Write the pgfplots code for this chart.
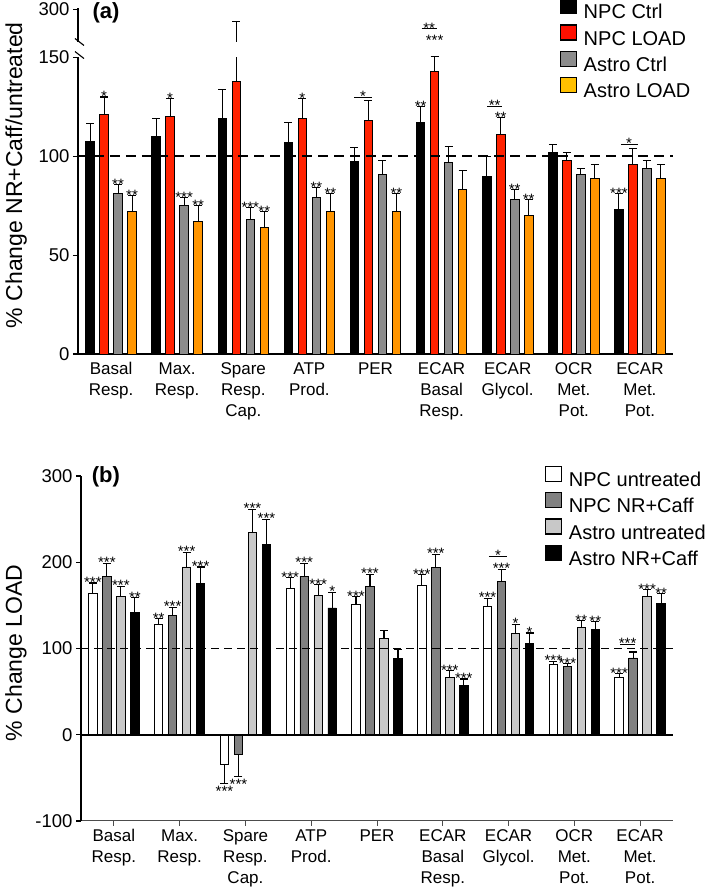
\documentclass[border=0pt]{standalone}
\usepackage{fontspec}
\setmainfont{Liberation Sans}
\usepackage{pgfplots}
\pgfplotsset{compat=1.18}

\definecolor{npcred}{HTML}{FF2200}
\definecolor{legred}{HTML}{FF1000}
\definecolor{astroorange}{HTML}{FF9500}
\definecolor{legorange}{HTML}{FFC000}
\definecolor{midgray}{HTML}{8C8C8C}
\definecolor{dkgray}{HTML}{808080}
\definecolor{ltgray}{HTML}{C8C8C8}

\newcommand\fs[2]{\fontsize{#1}{#2}\selectfont}
% significance stars above (\st) or below (\stb) a value; #2 = bar slot (-3,-1,1,3)
\newcommand\st[4]{\node[anchor=base, inner sep=0pt, font=\fs{15}{15}, xshift=#2*7pt, yshift=-4.5pt] at (axis cs:#1,#3) {#4};}
\newcommand\stb[4]{\node[anchor=base, inner sep=0pt, font=\fs{15}{15}, xshift=#2*7pt, yshift=-13pt] at (axis cs:#1,#3) {#4};}
% bracket: group, x1, x2, xc (pt from group centre), y, stars
\newcommand\brk[6]{\draw[line width=1.1pt] ([xshift=#2pt]axis cs:#1,#5) -- ([xshift=#3pt]axis cs:#1,#5);
  \node[anchor=base, inner sep=0pt, font=\fs{15}{15}, xshift=#4pt, yshift=-4.5pt] at (axis cs:#1,#5) {#6};}

\pgfplotsset{
  panel/.style={
    scale only axis, clip=false,
    axis lines=left,
    axis line style={line width=1.1pt, -},
    xmin=-0.5, xmax=8.5,
    xtick={0,1,2,3,4,5,6,7,8},
    xticklabels={{Basal\\Resp.},{Max.\\Resp.},{Spare\\Resp.\\Cap.},{ATP\\Prod.},{PER},{ECAR\\Basal\\Resp.},{ECAR\\Glycol.},{OCR\\Met.\\Pot.},{ECAR\\Met.\\Pot.}},
    xticklabel style={align=center, font=\fs{17}{21}},
    yticklabel style={font=\fs{18.5}{20}},
    /pgf/number format/assume math mode=true,
    tick align=outside, major tick length=5pt,
    ytick style={line width=1.1pt, black},
    ybar, bar width=8.5pt,
    error bars/y dir=plus, error bars/y explicit,
    error bars/error bar style={line width=1.1pt, black},
    error bars/error mark options={rotate=90, mark size=4pt, line width=1.1pt, black},
    legend cell align=left,
    legend style={draw=none, fill=none, anchor=north west, font=\fs{20}{24},
      inner sep=0pt, row sep=1pt, column sep=7pt,
      nodes={inner sep=0pt, text height=15pt, text depth=4.5pt}},
    ylabel style={font=\fs{23}{26}, anchor=center},
  },
  sq/.style={legend image code/.code={\draw[line width=1.1pt, draw=black, #1] (0pt,0pt) rectangle (15.5pt,15pt);}},
  bar/.style={draw=black, line width=0.9pt, fill=#1},
}

\begin{document}
\begin{tikzpicture}
\useasboundingbox (0,0) rectangle (709pt,892pt);

% ---------------- panel (a) ----------------
% values above the axis break (150) are given in display units: 175 = 300
\begin{axis}[panel, at={(78pt,538pt)}, anchor=south west, width=595pt, height=346pt,
  ymin=0, ymax=175, ytick={0,50,100,150,174.3}, yticklabels={0,50,100,150,300},
  xtick style={draw=none},
  ylabel={\% Change NR+Caff/untreated},
  ylabel style={at={(axis description cs:-0.104,0.517)}},
  legend style={at={(axis description cs:0.81,1.029)}},
]
\addplot[bar=black, bar shift=-21pt, sq={fill=black}] coordinates {
 (0,107.5) +- (0,9) (1,110) +- (0,9) (2,119) +- (0,15) (3,107) +- (0,10) (4,97.5) +- (0,7)
 (5,117) +- (0,8) (6,90) +- (0,10) (7,102) +- (0,4) (8,73) +- (0,8)};
\addplot[bar=npcred, bar shift=-7pt, sq={fill=legred}] coordinates {
 (0,121) +- (0,9) (1,120) +- (0,9) (2,138) +- (0,30) (3,119) +- (0,10) (4,118) +- (0,10)
 (5,143) +- (0,7.5) (6,111) +- (0,8.5) (7,98) +- (0,4) (8,96) +- (0,8)};
\addplot[bar=midgray, bar shift=7pt, sq={fill=midgray}] coordinates {
 (0,81) +- (0,4.5) (1,75) +- (0,4) (2,68) +- (0,6) (3,79) +- (0,5) (4,91) +- (0,7)
 (5,97) +- (0,8) (6,78) +- (0,5) (7,91) +- (0,3) (8,94) +- (0,4)};
\addplot[bar=astroorange, bar shift=21pt, sq={fill=legorange}] coordinates {
 (0,72) +- (0,8) (1,67) +- (0,8) (2,64) +- (0,8) (3,72) +- (0,9) (4,72) +- (0,9)
 (5,83) +- (0,10) (6,70) +- (0,8) (7,89) +- (0,7) (8,89) +- (0,7)};
\legend{NPC Ctrl, NPC LOAD, Astro Ctrl, Astro LOAD}
\draw[dashed, dash pattern=on 10pt off 6pt, line width=1.8pt] (axis cs:-0.5,100) -- (axis cs:8.5,100);
% stars
\st{0}{-1}{130}{*} \st{0}{1}{85.5}{**} \st{0}{3}{80}{**}
\st{1}{-1}{129}{*} \st{1}{1}{79}{***} \st{1}{3}{75}{**}
\st{2}{1}{74}{***} \st{2}{3}{72}{**}
\st{3}{-1}{129}{*} \st{3}{1}{84}{**} \st{3}{3}{81}{**}
\brk{4}{-21}{-3.5}{-12.5}{129.8}{*} \st{4}{3}{81}{**}
\st{5}{-3}{125}{**} \brk{5}{-20}{-4.5}{-12.5}{164.6}{**} \st{5}{-1}{158.5}{***}
\brk{6}{-20.5}{-5.5}{-13}{125.3}{**} \st{6}{-1}{119.5}{**} \st{6}{1}{83}{**} \st{6}{3}{78}{**}
\st{8}{-3}{81}{***} \brk{8}{-19}{-2}{-11}{106}{*}
\node[font=\bfseries\fs{22}{24}] at (axis description cs:0.047,0.9855) {(a)};
\coordinate (gA) at (axis cs:-0.5,150.4);
\coordinate (gB) at (axis cs:2.3,157.6);
\coordinate (s1) at (axis cs:-0.5,157.8);
\coordinate (s2) at (axis cs:-0.5,151.2);
\end{axis}
\fill[white] ([xshift=-4pt]gA) rectangle (gB);
\draw[line width=1.1pt] ([shift={(-3pt,3.5pt)}]s1) -- ([shift={(6pt,-3.5pt)}]s1);
\draw[line width=1.1pt] ([shift={(-3pt,3.5pt)}]s2) -- ([shift={(6pt,-3.5pt)}]s2);

% ---------------- panel (b) ----------------
\begin{axis}[panel, at={(81pt,71pt)}, anchor=south west, width=592pt, height=345pt,
  ymin=-100, ymax=300, ytick={-100,0,100,200,300},
  x axis line style={draw=black!70, line width=1pt},
  xtick style={line width=0.8pt, black!70}, 
  ylabel={\% Change LOAD},
  ylabel style={at={(axis description cs:-0.11,0.487)}},
  legend style={at={(axis description cs:0.784,1.030)}},
]
\addplot[bar=white, bar shift=-21pt, sq={fill=white}] coordinates {
 (0,164) +- (0,12) (1,127.5) +- (0,7) (2,-34) +- (0,-23) (3,170) +- (0,12) (4,151) +- (0,9)
 (5,173.5) +- (0,12) (6,148.5) +- (0,9.5) (7,82) +- (0,3) (8,67) +- (0,4)};
\addplot[bar=dkgray, bar shift=-7pt, sq={fill=dkgray}] coordinates {
 (0,184) +- (0,15) (1,138) +- (0,10) (2,-23) +- (0,-25.5) (3,184) +- (0,15) (4,172) +- (0,14)
 (5,193.5) +- (0,16) (6,178) +- (0,14) (7,79) +- (0,3.5) (8,89) +- (0,7)};
\addplot[bar=ltgray, bar shift=7pt, sq={fill=ltgray}] coordinates {
 (0,160) +- (0,12) (1,194.5) +- (0,17) (2,234.5) +- (0,27) (3,161) +- (0,13) (4,112) +- (0,9)
 (5,66) +- (0,8) (6,117.5) +- (0,10.5) (7,124) +- (0,8) (8,160.5) +- (0,7.5)};
\addplot[bar=black, bar shift=21pt, sq={fill=black}] coordinates {
 (0,142) +- (0,17) (1,175) +- (0,19.5) (2,221) +- (0,29) (3,147) +- (0,18) (4,88) +- (0,11)
 (5,56.6) +- (0,8) (6,106) +- (0,12) (7,121.7) +- (0,9.3) (8,152.7) +- (0,11)};
\legend{NPC untreated, NPC NR+Caff, Astro untreated, Astro NR+Caff}
\draw[dashed, dash pattern=on 8pt off 5pt, line width=1.3pt] (axis cs:-0.5,100) -- (axis cs:8.5,100);
\draw[line width=2pt] (axis cs:-0.5,0) -- (axis cs:8.5,0);
% stars
\st{0}{-3}{176}{***} \st{0}{-1}{199}{***} \st{0}{1}{172}{***} \st{0}{3}{159}{**}
\st{1}{-3}{134.5}{**} \st{1}{-1}{148}{***} \st{1}{1}{211.5}{***} \st{1}{3}{194.5}{***}
\stb{2}{-3}{-57}{***} \stb{2}{-1}{-48.5}{***} \st{2}{1}{261.5}{***} \st{2}{3}{250}{***}
\st{3}{-3}{182}{***} \st{3}{-1}{199}{***} \st{3}{1}{174}{***} \st{3}{3}{165}{*}
\st{4}{-3}{160}{***} \st{4}{-1}{186}{***}
\st{5}{-3}{185.5}{***} \st{5}{-1}{209.5}{***} \st{5}{1}{74}{***} \st{5}{3}{64.6}{***}
\st{6}{-3}{158}{***} \st{6}{-1}{192}{***} \brk{6}{-19.6}{-1.6}{-10.6}{207}{*} \st{6}{1}{128}{*} \st{6}{3}{118}{*}
\st{7}{-3}{85}{***} \st{7}{-1}{82.5}{***} \st{7}{1}{132}{**} \st{7}{3}{131}{**}
\st{8}{-3}{70.6}{***} \brk{8}{-20}{-5}{-12.5}{105}{***} \st{8}{1}{168}{***} \st{8}{3}{163.6}{**}
\node[font=\bfseries\fs{22}{24}] at (axis description cs:0.042,0.997) {(b)};
\end{axis}
\end{tikzpicture}
\end{document}
